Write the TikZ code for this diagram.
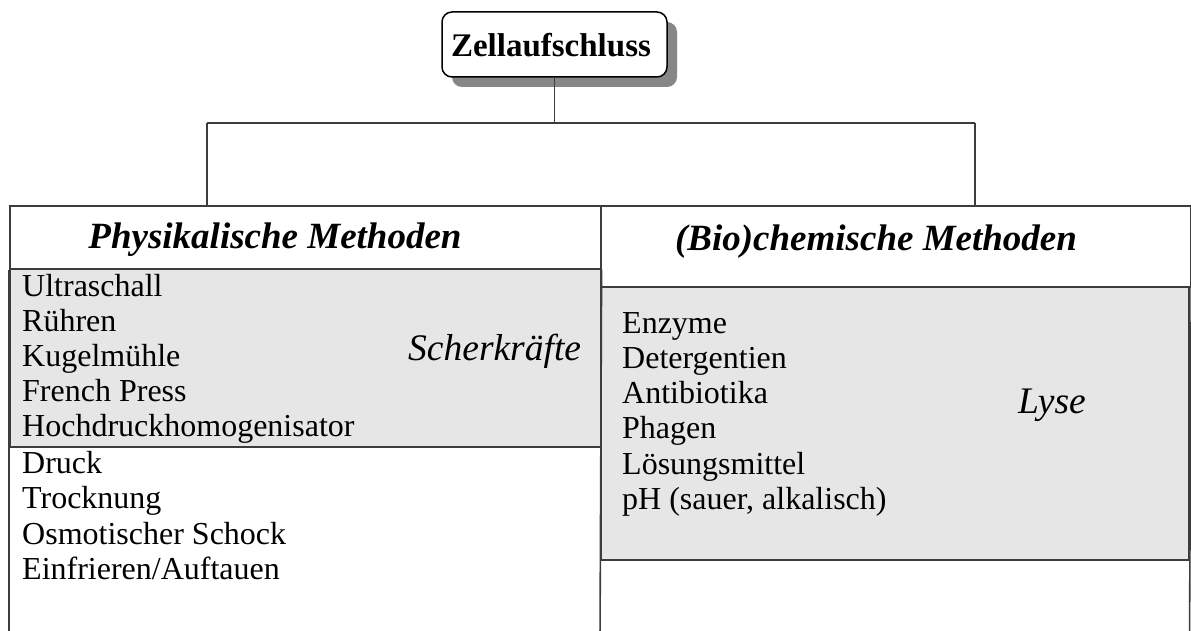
\documentclass[tikz,border=0pt]{standalone}
\usepackage{fontspec}
\setmainfont{Liberation Serif}
\usetikzlibrary{shadows}
\definecolor{fillgrey}{RGB}{230,230,230}
\definecolor{linegrey}{RGB}{60,60,60}
\definecolor{shadowgrey}{RGB}{135,135,135}
\tikzset{
  frameline/.style={draw=linegrey, line width=1.6pt},
  listtext/.style={anchor=base west, inner sep=0pt, font=\fontsize{32}{35}\selectfont},
  headtext/.style={anchor=base, inner sep=0pt, font=\fontsize{37}{40}\selectfont\bfseries\itshape},
  sidetext/.style={anchor=base west, inner sep=0pt, font=\fontsize{37.5}{40}\selectfont\itshape},
  topbox/.style={draw=black, line width=1.5pt, rounded corners=10pt, fill=white,
    minimum width=225pt, minimum height=65pt, inner sep=0pt,
    drop shadow={shadow xshift=10pt, shadow yshift=-10pt, fill=shadowgrey, opacity=1}},
  panel/.style={frameline, inner sep=0pt, anchor=north west},
}
\begin{document}
\begin{tikzpicture}[x=1pt,y=-1pt]
\useasboundingbox (0,0) rectangle (1191,631);
% top node
\node[topbox] (top) at (554.5,44.5) {};
\node[anchor=base, inner sep=0pt, font=\fontsize{33}{36}\selectfont\bfseries] (toptext) at (551,57) {Zellaufschluss};
% panels
\node[panel, fill=white, minimum width=591pt, minimum height=63pt] (physhead) at (9,205) {};
\node[panel, fill=fillgrey, minimum width=591pt, minimum height=178pt] (physgrey) at (9,268) {};
\node[panel, fill=white, minimum width=590pt, minimum height=81pt] (biohead) at (600,205) {};
\node[panel, fill=fillgrey, minimum width=588pt, minimum height=273pt] (biogrey) at (600,286) {};
% outer frame lines going off the bottom
\draw[frameline] (physhead.south west) -- (9,640);
\draw[frameline] (physhead.south east) -- (600,640);
\draw[frameline] (biohead.north east) -- (1189.5,640);
% connectors
\coordinate (j) at (top.south |- 0,123);
\coordinate (jl) at (207,123);
\coordinate (jr) at (975,123);
\draw[frameline] (top.south) -- (j);
\draw[frameline] (jl) -- (jr);
\draw[frameline] (jl) -- (jl |- physhead.north);
\draw[frameline] (jr) -- (jr |- biohead.north);
% headers
\node[headtext] (physlabel) at (275,248) {Physikalische Methoden};
\node[headtext] (biolabel) at (876,250) {(Bio)chemische Methoden};
% left list (grey)
\node[listtext] (l1) at (22,296.7) {Ultraschall};
\node[listtext] (l2) at (22,331.7) {Rühren};
\node[listtext] (l3) at (22,366.7) {Kugelmühle};
\node[listtext] (l4) at (22,401.7) {French Press};
\node[listtext] (l5) at (22,436.7) {Hochdruckhomogenisator};
\node[sidetext] (scher) at (408,360) {Scherkräfte};
% left list (white)
\node[listtext] (b1) at (22,473) {Druck};
\node[listtext] (b2) at (22,508.5) {Trocknung};
\node[listtext] (b3) at (22,544) {Osmotischer Schock};
\node[listtext] (b4) at (22,579.5) {Einfrieren/Auftauen};
% right list
\node[listtext] (r1) at (622,333) {Enzyme};
\node[listtext] (r2) at (622,368) {Detergentien};
\node[listtext] (r3) at (622,403) {Antibiotika};
\node[listtext] (r4) at (622,438.5) {Phagen};
\node[listtext] (r5) at (622,474) {Lösungsmittel};
\node[listtext] (r6) at (622,509) {pH (sauer, alkalisch)};
\node[sidetext] (lyse) at (1018,413) {Lyse};
\end{tikzpicture}
\end{document}
